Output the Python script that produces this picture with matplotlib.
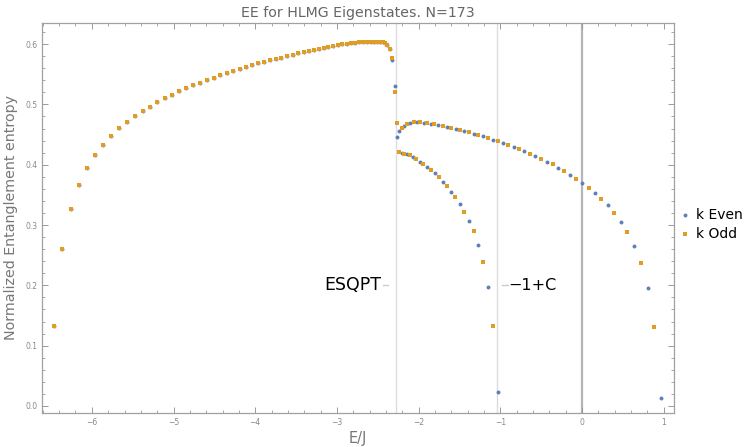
import numpy as np
import matplotlib
matplotlib.use("Agg")
import matplotlib.pyplot as plt
from matplotlib.ticker import MultipleLocator

# states below the ESQPT: k even and k odd are degenerate
below_E = [-6.463, -6.361, -6.258, -6.157, -6.055, -5.957, -5.859, -5.761, -5.663, -5.569,
           -5.471, -5.377, -5.288, -5.198, -5.108, -5.018, -4.929, -4.843, -4.758, -4.676,
           -4.590, -4.508, -4.427, -4.349, -4.268, -4.190, -4.113, -4.039, -3.969, -3.892,
           -3.823, -3.749, -3.680, -3.611, -3.541, -3.472, -3.406, -3.341, -3.280, -3.219,
           -3.162, -3.105, -3.048, -2.990, -2.934, -2.880, -2.827, -2.775, -2.726, -2.677,
           -2.632, -2.586, -2.546, -2.505, -2.469, -2.436, -2.408, -2.383, -2.350]
below_S = [0.133, 0.261, 0.326, 0.3665, 0.3947, 0.4163, 0.4333, 0.4478, 0.4605, 0.471,
           0.4804, 0.4887, 0.4964, 0.5036, 0.5103, 0.5163, 0.5219, 0.5269, 0.5318, 0.5362,
           0.5406, 0.5445, 0.5484, 0.5522, 0.5556, 0.5589, 0.5622, 0.565, 0.5683, 0.5705,
           0.5733, 0.5755, 0.5776, 0.5799, 0.5826, 0.5849, 0.5871, 0.5887, 0.5904, 0.5925,
           0.5942, 0.5958, 0.5975, 0.5987, 0.5998, 0.6008, 0.602, 0.6025, 0.6031, 0.6036,
           0.6042, 0.6042, 0.6042, 0.6042, 0.6036, 0.6031, 0.602, 0.5992, 0.592]

# above the ESQPT
even_E = [-2.322, -2.289, -2.264, -2.240, -2.179, -2.102, -2.020, -1.938, -1.852, -1.759,
          -1.652, -1.546, -1.441, -1.326, -1.212, -1.089, -0.967, -0.836, -0.706, -0.572,
          -0.432, -0.290, -0.143, 0.004, 0.155, 0.315, 0.474, 0.636, 0.802, 0.971,
          -2.207, -2.146, -2.069, -1.987, -1.897, -1.803, -1.705, -1.603, -1.497, -1.387,
          -1.270, -1.154, -1.032]
even_S = [0.5733, 0.5307, 0.4456, 0.4566, 0.4648, 0.4698, 0.4705, 0.4698, 0.4682, 0.466,
          0.4632, 0.4599, 0.456, 0.4516, 0.4473, 0.4416, 0.4357, 0.4295, 0.4224, 0.4146,
          0.4051, 0.3952, 0.3836, 0.3698, 0.3532, 0.3328, 0.3051, 0.2658, 0.196, 0.0138,
          0.4187, 0.4174, 0.4126, 0.4051, 0.3964, 0.3856, 0.372, 0.3554, 0.335, 0.3071,
          0.2673, 0.1973, 0.0227]

odd_E = [-2.322, -2.289, -2.264, -2.207, -2.142, -2.060, -1.979, -1.897, -1.808, -1.705,
         -1.600, -1.493, -1.383, -1.269, -1.151, -1.028, -0.902, -0.771, -0.640, -0.502,
         -0.359, -0.217, -0.070, 0.080, 0.236, 0.392, 0.554, 0.718, 0.885,
         -2.240, -2.179, -2.105, -2.028, -1.942, -1.852, -1.754, -1.656, -1.551, -1.444,
         -1.328, -1.212, -1.092]
odd_S = [0.5766, 0.5202, 0.4698, 0.461, 0.4677, 0.4705, 0.4705, 0.4693, 0.4672, 0.4648,
         0.4615, 0.4582, 0.4539, 0.4494, 0.4444, 0.439, 0.4328, 0.4257, 0.4184, 0.4101,
         0.4008, 0.3897, 0.377, 0.3615, 0.3433, 0.3201, 0.2877, 0.2367, 0.1313,
         0.4212, 0.4184, 0.4154, 0.4093, 0.4013, 0.3914, 0.3793, 0.3643, 0.3461, 0.3222,
         0.2899, 0.238, 0.1327]

esqpt = -2.28
c_line = -1.037

blue = '#5E81B5'
orange = '#E19C24'
gray = '#777777'

fig = plt.figure(figsize=(7.46, 4.47), dpi=100)
ax = fig.add_axes([0.0563, 0.0761, 0.8472, 0.8725])

ax.axvline(esqpt, color='#dddddd', lw=1.0, zorder=0)
ax.axvline(c_line, color='#dddddd', lw=1.0, zorder=0)
ax.axvline(0, color='#b5b5b5', lw=1.6, zorder=0)

ax.scatter(below_E + even_E, below_S + even_S, s=8, marker='o', color=blue,
           linewidths=0, label='k Even', zorder=2)
ax.scatter(below_E + odd_E, below_S + odd_S, s=12, marker='s', color=orange,
           linewidths=0, label='k Odd', zorder=3)

# annotations
ax.plot([-2.44, -2.37], [0.2, 0.2], color='#cccccc', lw=1)
ax.text(-2.455, 0.2, 'ESQPT', ha='right', va='center', fontsize=12.5, color='black')
ax.plot([-0.985, -0.91], [0.2, 0.2], color='#cccccc', lw=1)
ax.text(-0.905, 0.2, '\u22121+C', ha='left', va='center', fontsize=11.5, color='black')

ax.set_xlim(-6.61, 1.126)
ax.set_ylim(-0.0116, 0.635)
ax.xaxis.set_major_locator(MultipleLocator(1))
ax.xaxis.set_minor_locator(MultipleLocator(0.2))
ax.yaxis.set_major_locator(MultipleLocator(0.1))
ax.yaxis.set_minor_locator(MultipleLocator(0.02))
ax.yaxis.set_major_formatter(matplotlib.ticker.FormatStrFormatter('%.1f'))
ax.tick_params(which='both', direction='in', top=True, right=True, colors='#999999',
               labelcolor='#888888', labelsize=5.5)
ax.tick_params(which='major', length=4, width=0.7)
ax.tick_params(which='minor', length=2, width=0.6)
for sp in ax.spines.values():
    sp.set_color('#a0a0a0')
    sp.set_linewidth(0.9)

ax.set_title('EE for HLMG Eigenstates. N=173', fontsize=10.2, color='#666666', pad=4)
ax.set_xlabel('E/J', fontsize=10.5, color=gray, labelpad=3)
ax.set_ylabel('Normalized Entanglement entropy', fontsize=10.3, color=gray, labelpad=5)

ax.legend(loc='upper left', bbox_to_anchor=(0.912, 0.535), bbox_transform=fig.transFigure,
          frameon=False, fontsize=10, handlelength=0.6, handletextpad=0.5,
          labelspacing=0.35, markerscale=1.0, borderaxespad=0, borderpad=0)

fig.savefig('out.png', dpi=100)
